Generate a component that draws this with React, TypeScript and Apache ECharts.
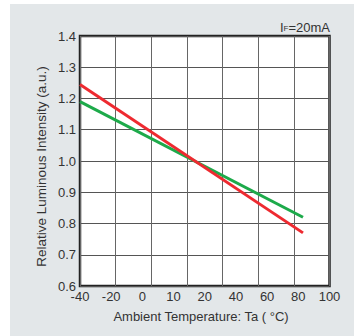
import React, { useEffect, useRef } from "react";
import * as echarts from "echarts";

const tickLabels = ["-40", "-20", "0", "10", "20", "40", "60", "80", "100"];
const tickTemps = [-40, -20, 0, 10, 20, 40, 60, 80, 100];
const redTemps = [-40, 83];
const redValues = [1.245, 0.77];
const greenTemps = [-40, 83];
const greenValues = [1.19, 0.82];
const yMin = 0.6;
const yMax = 1.4;

// map temperature onto the (evenly spaced) tick-label positions
function tempToPos(t: number): number {
  for (let i = 0; i < tickTemps.length - 1; i++) {
    const a = tickTemps[i];
    const b = tickTemps[i + 1];
    if (t <= b || i === tickTemps.length - 2) {
      return i + (t - a) / (b - a);
    }
  }
  return 0;
}

const FONT = "'Liberation Sans', Arial, Helvetica, sans-serif";

export default function App() {
  const ref = useRef<HTMLDivElement>(null);
  useEffect(() => {
    if (!ref.current) return;
    const chart = echarts.init(ref.current, undefined, { renderer: "svg" });
    const red = redTemps.map((t, i) => [tempToPos(t), redValues[i]]);
    const green = greenTemps.map((t, i) => [tempToPos(t), greenValues[i]]);
    chart.setOption({
      animation: false,
      backgroundColor: "#ffffff",
      textStyle: { fontFamily: FONT },
      grid: {
        left: 80,
        right: 24.5,
        top: 36,
        bottom: 50,
        show: true,
        backgroundColor: "#ffffff",
        borderColor: "#222222",
        borderWidth: 2.5,
        z: 0,
      },
      graphic: [
        {
          type: "rect",
          z: -100,
          silent: true,
          shape: { x: 10, y: 4, width: 344, height: 332 },
          style: { fill: "#e3e7e9" },
        },
        {
          type: "text",
          x: 330,
          y: 27,
          style: {
            text: "{a|I}{b|F}{a|=20mA}",
            align: "right",
            verticalAlign: "middle",
            rich: {
              a: { fontSize: 13, fill: "#333333", fontFamily: FONT },
              b: { fontSize: 8, fill: "#333333", fontFamily: FONT, padding: [3, 0, 0, 0] },
            },
          },
        },
        {
          type: "text",
          x: 201,
          y: 316,
          style: {
            text: "Ambient Temperature: Ta ( °C)",
            align: "center",
            verticalAlign: "middle",
            fontSize: 13,
            fill: "#333333",
            fontFamily: FONT,
          },
        },
        {
          type: "text",
          x: 41.5,
          y: 166.5,
          rotation: Math.PI / 2,
          style: {
            text: "Relative Luminous Intensity (a.u.)",
            align: "center",
            verticalAlign: "middle",
            fontSize: 13.5,
            fill: "#333333",
            fontFamily: FONT,
          },
        },
      ],
      xAxis: [
        {
          type: "value",
          min: 0,
          max: tickLabels.length - 1,
          interval: 1,
          z: 2,
          axisLine: { show: false },
          axisTick: { show: false },
          splitLine: { show: false },
          axisLabel: {
            margin: 4,
            fontSize: 13,
            color: "#333333",
            fontFamily: FONT,
            formatter: (v: number) => tickLabels[Math.round(v)] ?? "",
          },
        },
        {
          type: "value",
          position: "bottom",
          min: 0,
          max: 7,
          interval: 1,
          z: 2,
          axisLine: { show: false },
          axisTick: { show: false },
          axisLabel: { show: false },
          splitLine: { show: true, lineStyle: { color: "#666666", width: 1 } },
        },
      ],
      yAxis: {
        type: "value",
        min: yMin,
        max: yMax,
        interval: 0.1,
        z: 2,
        axisLine: { show: false },
        axisTick: { show: false },
        axisLabel: {
          margin: 4,
          fontSize: 13,
          color: "#333333",
          fontFamily: FONT,
          formatter: (v: number) => v.toFixed(1),
        },
        splitLine: { show: true, lineStyle: { color: "#555555", width: 1 } },
      },
      series: [
        {
          type: "line",
          data: green,
          xAxisIndex: 0,
          showSymbol: false,
          lineStyle: { color: "#1daa4a", width: 3 },
          z: 3,
        },
        {
          type: "line",
          data: red,
          xAxisIndex: 0,
          showSymbol: false,
          lineStyle: { color: "#ee2a30", width: 3 },
          z: 4,
        },
      ],
    });
    return () => chart.dispose();
  }, []);
  return (
    <div
      ref={ref}
      style={{ position: "absolute", left: 0, top: 0, width: 354, height: 336 }}
    />
  );
}
